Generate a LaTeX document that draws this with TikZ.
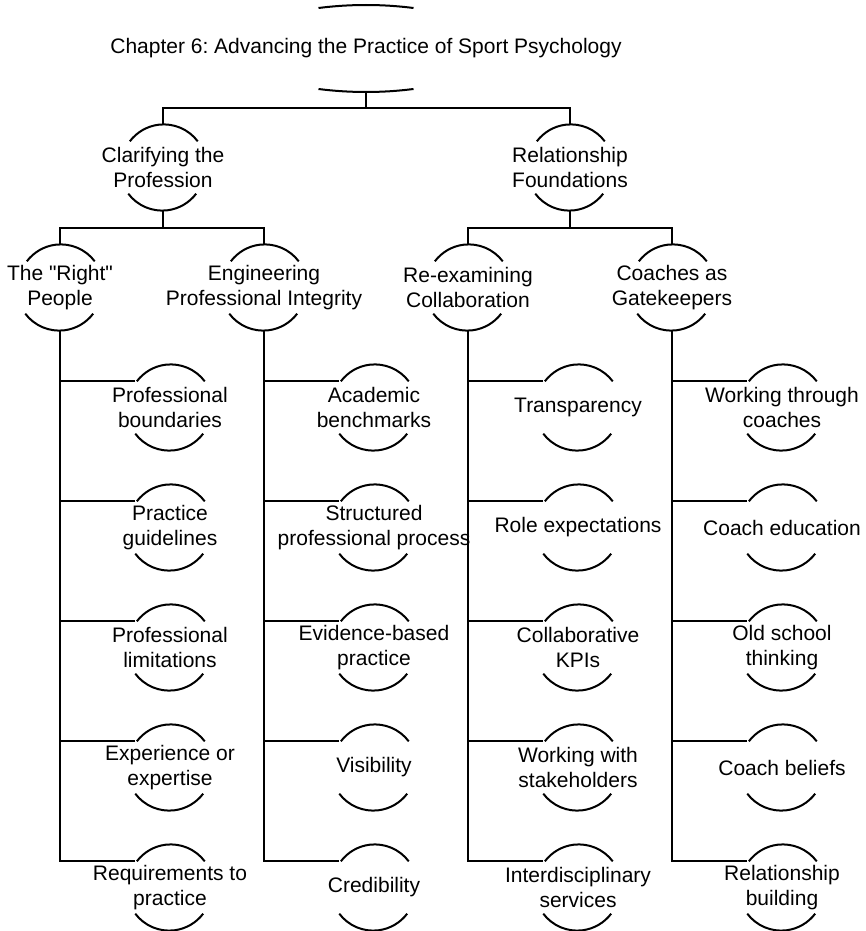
\documentclass[tikz,border=0pt]{standalone}
\usepackage{fontspec}
\setmainfont{Liberation Sans}[Ligatures=TeXOff]
\frenchspacing
\tikzset{
	topictext/.style={align=center, inner sep=0pt, font=\fontsize{10.5}{12.5}\selectfont},
	topic/.style={circle, minimum size=42.5pt, inner sep=0pt, label={[topictext]center:#1}},
	title/.style={rectangle, minimum height=42.5pt, inner sep=0pt,
		font=\fontsize{10.5}{12.5}\selectfont}
}
\begin{document}
\begin{tikzpicture}[x=0.5pt, y=0.5pt, line width=1pt]
			
			\useasboundingbox (0,0) rectangle (866,-931);
			
			%Chapter title
			\node (root) at (366,-48.5) [title]{Chapter 6: Advancing the Practice of Sport Psychology};
			\draw ([xshift=-23.75pt,yshift=-1.5pt]root.north) arc[start angle=97.23, end angle=82.77, radius=188.75pt];
			\draw ([xshift=-23.75pt,yshift=1.5pt]root.south) arc[start angle=262.77, end angle=277.23, radius=188.75pt];
			
			%First level
			\node (clar) at (163,-167.5) [topic={Clarifying the\\Profession}]{};
			\node (rel) at (570,-167.5) [topic={Relationship\\Foundations}]{};
			\draw (root.south) -- ++(0,-16) coordinate (bus0);
			\draw (clar.north) |- (bus0) -| (rel.north);
			
			%Second level
			\node (right) at (60,-287.5) [topic={The "Right"\\People}]{};
			\node (eng) at (264,-287.5) [topic={Engineering\\Professional Integrity}]{};
			\node (reex) at (468,-287.5) [topic={Re-examining\\Collaboration}]{};
			\node (gate) at (672,-287.5) [topic={Coaches as\\Gatekeepers}]{};
			\draw (clar.south) -- ++(0,-17) coordinate (bus1);
			\draw (right.north) |- (bus1) -| (eng.north);
			\draw (rel.south) -- ++(0,-17) coordinate (bus2);
			\draw (reex.north) |- (bus2) -| (gate.north);
			
			%The right people
			\node (bound) at (170,-407.5) [topic={Professional\\boundaries}]{};
			\node (guide) at (170,-527.5) [topic={Practice\\guidelines}]{};
			\node (limit) at (170,-647.5) [topic={Professional\\limitations}]{};
			\node (exper) at (170,-767.5) [topic={Experience or\\expertise}]{};
			\node (req) at (170,-887.5) [topic={Requirements to\\practice}]{};
			
			%Professional integrity
			\node (bench) at (374,-407.5) [topic={Academic\\benchmarks}]{};
			\node (struct) at (374,-527.5) [topic={Structured\\professional process}]{};
			\node (evid) at (374,-647.5) [topic={Evidence-based\\practice}]{};
			\node (visib) at (374,-767.5) [topic={Visibility}]{};
			\node (cred) at (374,-887.5) [topic={Credibility}]{};
			
			%Collaboration
			\node (transp) at (578,-407.5) [topic={Transparency}]{};
			\node (role) at (578,-527.5) [topic={Role expectations}]{};
			\node (kpi) at (578,-647.5) [topic={Collaborative\\KPIs}]{};
			\node (stake) at (578,-767.5) [topic={Working with\\stakeholders}]{};
			\node (inter) at (578,-887.5) [topic={Interdisciplinary\\services}]{};
			
			%Gatekeepers
			\node (through) at (782,-407.5) [topic={Working through\\coaches}]{};
			\node (educ) at (782,-527.5) [topic={Coach education}]{};
			\node (oldsch) at (782,-647.5) [topic={Old school\\thinking}]{};
			\node (belief) at (782,-767.5) [topic={Coach beliefs}]{};
			\node (build) at (782,-887.5) [topic={Relationship\\building}]{};
			
			%Arcs of the topics
			\foreach \n in {clar,rel,right,eng,reex,gate,bound,guide,limit,exper,req,bench,struct,evid,visib,cred,transp,role,kpi,stake,inter,through,educ,oldsch,belief,build}{
				\draw (\n.37) arc[start angle=37, end angle=143, radius=21.25pt];
				\draw (\n.217) arc[start angle=217, end angle=323, radius=21.25pt];
			}
			
			%Trunks to the leaves
			\draw (right.south) |- (req.143);
			\draw (eng.south) |- (cred.143);
			\draw (reex.south) |- (inter.143);
			\draw (gate.south) |- (build.143);
			\foreach \n in {bound,guide,limit,exper} \draw (right.south |- \n.143) -- (\n.143);
			\foreach \n in {bench,struct,evid,visib} \draw (eng.south |- \n.143) -- (\n.143);
			\foreach \n in {transp,role,kpi,stake} \draw (reex.south |- \n.143) -- (\n.143);
			\foreach \n in {through,educ,oldsch,belief} \draw (gate.south |- \n.143) -- (\n.143);
			
\end{tikzpicture}
\end{document}
